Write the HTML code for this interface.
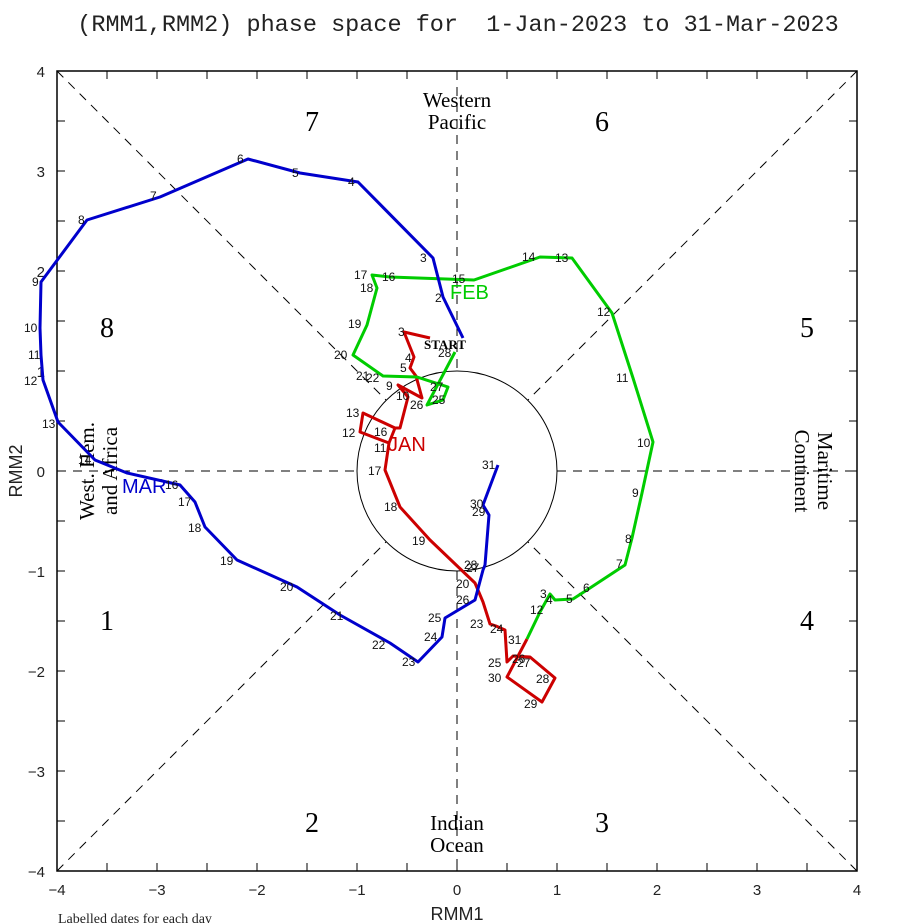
<!DOCTYPE html>
<html><head><meta charset="utf-8"><style>body{margin:0;background:#fff}svg{display:block}</style></head><body>
<svg width="898" height="923" xmlns="http://www.w3.org/2000/svg" font-family="Liberation Sans, sans-serif">
<rect width="898" height="923" fill="#fff"/>
<text x="458" y="31" font-family="Liberation Mono, monospace" font-size="23.5" text-anchor="middle" fill="#222" xml:space="preserve">(RMM1,RMM2) phase space for  1-Jan-2023 to 31-Mar-2023</text>
<rect x="57" y="71" width="800" height="800" fill="none" stroke="#000" stroke-width="1.5"/>
<g stroke="#000" stroke-width="1">
<path d="M107,71v8M157,71v8M207,71v8M257,71v8M307,71v8M357,71v8M407,71v8M457,71v8M507,71v8M557,71v8M607,71v8M657,71v8M707,71v8M757,71v8M807,71v8
M107,871v-8M157,871v-8M207,871v-8M257,871v-8M307,871v-8M357,871v-8M407,871v-8M457,871v-8M507,871v-8M557,871v-8M607,871v-8M657,871v-8M707,871v-8M757,871v-8M807,871v-8
M57,121h8M57,171h8M57,221h8M57,271h8M57,321h8M57,371h8M57,421h8M57,471h8M57,521h8M57,571h8M57,621h8M57,671h8M57,721h8M57,771h8M57,821h8
M857,121h-8M857,171h-8M857,221h-8M857,271h-8M857,321h-8M857,371h-8M857,421h-8M857,471h-8M857,521h-8M857,571h-8M857,621h-8M857,671h-8M857,721h-8M857,771h-8M857,821h-8"/>
</g>
<g stroke="#000" stroke-width="1" stroke-dasharray="9,7" fill="none">
<path d="M57,71L386,400M857,71L528,400M57,871L386,542M857,871L528,542M457,71V371M457,571V871M57,471H357M557,471H857"/>
</g>
<circle cx="457" cy="471" r="100" fill="none" stroke="#000" stroke-width="1"/>
<g font-size="15" fill="#222" text-anchor="middle">
<text x="57" y="895">−4</text><text x="157" y="895">−3</text><text x="257" y="895">−2</text><text x="357" y="895">−1</text><text x="457" y="895">0</text><text x="557" y="895">1</text><text x="657" y="895">2</text><text x="757" y="895">3</text><text x="857" y="895">4</text>
</g>
<g font-size="15" fill="#222" text-anchor="end">
<text x="45" y="77">4</text><text x="45" y="177">3</text><text x="45" y="277">2</text><text x="45" y="377">1</text><text x="45" y="477">0</text><text x="45" y="577">−1</text><text x="45" y="677">−2</text><text x="45" y="777">−3</text><text x="45" y="877">−4</text>
</g>
<text x="457" y="920" font-size="18" text-anchor="middle" fill="#222">RMM1</text>
<text x="22" y="471" font-size="18" text-anchor="middle" fill="#222" transform="rotate(-90 22 471)">RMM2</text>
<text x="58" y="923" font-family="Liberation Serif, serif" font-size="14" fill="#222">Labelled dates for each day</text>
<g font-family="Liberation Serif, serif" font-size="28" text-anchor="middle" fill="#000">
<text x="312" y="131">7</text><text x="602" y="131">6</text><text x="107" y="337">8</text><text x="807" y="337">5</text>
<text x="107" y="630">1</text><text x="807" y="630">4</text><text x="312" y="832">2</text><text x="602" y="832">3</text>
</g>
<g font-family="Liberation Serif, serif" font-size="21" text-anchor="middle" fill="#000">
<text x="457" y="107">Western</text><text x="457" y="129">Pacific</text>
<text x="457" y="830">Indian</text><text x="457" y="852">Ocean</text>
<text transform="translate(94,471) rotate(-90)">West. Hem.</text>
<text transform="translate(117,471) rotate(-90)">and Africa</text>
<text transform="translate(818,471) rotate(90)">Maritime</text>
<text transform="translate(795,471) rotate(90)">Continent</text>
</g>
<g fill="none" stroke-width="3" stroke-linejoin="round">
<polyline stroke="#cc0000" points="430,338 404,332 414,357 410,368 416,376 422,398 398,385 408,397 400,428 395,428 363,413 360,432 389,443 395,428 389,443 385,470 400,507 430,540 475,583 483,602 490,624 496,626 505,630 507,662 513,656 530,657 555,678 542,702 507,677 527,639"/>
<polyline stroke="#00cc00" points="527,639 540,612 550,594 555,600 573,599 590,588 625,565 632,538 642,493 653,442 633,378 612,313 572,258 540,257 474,280 390,277 372,275 377,288 367,325 353,355 383,376 417,377 448,387 443,400 427,405 455,352"/>
<polyline stroke="#0000cc" points="463,338 443,297 433,258 358,182 300,173 248,159 160,197 87,220 41,282 40,328 41,355 43,380 58,422 95,460 127,473 180,485 195,502 205,527 237,560 297,587 340,615 390,643 418,662 442,637 445,618 475,600 483,570 485,565 489,515 483,505 498,465"/>
</g>
<g font-size="12" fill="#111">
<text x="398" y="336">3</text><text x="405" y="362">4</text><text x="400" y="372">5</text><text x="386" y="390">9</text><text x="396" y="400">10</text>
<text x="346" y="417">13</text><text x="342" y="437">12</text><text x="374" y="436">16</text><text x="374" y="452">11</text><text x="368" y="475">17</text>
<text x="384" y="511">18</text><text x="412" y="545">19</text><text x="456" y="588">20</text><text x="470" y="628">23</text><text x="490" y="633">24</text>
<text x="488" y="667">25</text><text x="512" y="663">26</text><text x="517" y="667">27</text><text x="536" y="683">28</text><text x="524" y="708">29</text><text x="488" y="682">30</text><text x="508" y="644">31</text>
<text x="530" y="614">12</text><text x="540" y="598">3</text><text x="546" y="604">4</text><text x="566" y="603">5</text><text x="583" y="592">6</text><text x="616" y="568">7</text>
<text x="625" y="543">8</text><text x="632" y="497">9</text><text x="637" y="447">10</text><text x="616" y="382">11</text><text x="597" y="316">12</text><text x="555" y="262">13</text><text x="522" y="261">14</text>
<text x="452" y="283">15</text><text x="382" y="281">16</text><text x="354" y="279">17</text><text x="360" y="292">18</text><text x="348" y="328">19</text><text x="334" y="359">20</text>
<text x="356" y="380">21</text><text x="366" y="382">22</text><text x="430" y="391">27</text><text x="432" y="404">25</text><text x="410" y="409">26</text><text x="438" y="357">28</text>
<text x="420" y="262">3</text><text x="435" y="302">2</text><text x="348" y="186">4</text><text x="292" y="177">5</text><text x="237" y="163">6</text><text x="150" y="200">7</text>
<text x="78" y="224">8</text><text x="32" y="286">9</text><text x="24" y="332">10</text><text x="28" y="359">11</text><text x="24" y="385">12</text><text x="42" y="428">13</text>
<text x="78" y="464">14</text><text x="165" y="489">16</text><text x="178" y="506">17</text><text x="188" y="532">18</text><text x="220" y="565">19</text><text x="280" y="591">20</text>
<text x="330" y="620">21</text><text x="372" y="649">22</text><text x="402" y="666">23</text><text x="424" y="641">24</text><text x="428" y="622">25</text><text x="456" y="604">26</text>
<text x="464" y="569">28</text><text x="470" y="508">30</text><text x="472" y="516">29</text><text x="482" y="469">31</text><text x="466" y="572">27</text>
</g>
<text x="424" y="349" font-family="Liberation Serif, serif" font-weight="bold" font-size="13" fill="#000">START</text>
<text x="388" y="451" font-size="20" fill="#cc0000">JAN</text>
<text x="450" y="299" font-size="20" fill="#00cc00">FEB</text>
<text x="122" y="493" font-size="20" fill="#0000cc">MAR</text>
</svg>
</body></html>
